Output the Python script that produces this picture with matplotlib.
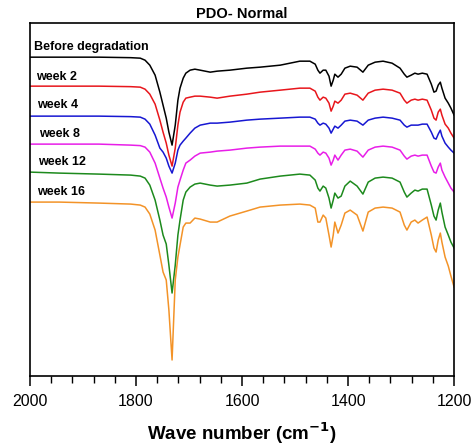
import matplotlib.pyplot as plt
from matplotlib.ticker import MultipleLocator

plt.rcParams["font.family"] = ["Liberation Sans", "DejaVu Sans"]

# wave numbers (cm-1) shared by all spectra
wavenumber = [2000, 1945, 1870, 1810, 1792, 1783, 1774, 1764, 1755, 1749,
              1743, 1738, 1732, 1726, 1721, 1717, 1711, 1706, 1698, 1689,
              1679, 1660, 1647, 1623, 1591, 1566, 1528, 1491, 1472, 1462,
              1457, 1453, 1447, 1442, 1436, 1432, 1428, 1425, 1419, 1413,
              1406, 1396, 1383, 1372, 1362, 1349, 1334, 1317, 1302, 1294,
              1289, 1281, 1274, 1268, 1260, 1251, 1243, 1238, 1234, 1230,
              1226, 1223, 1217, 1211, 1206, 1200]

# transmittance (a.u., stacked)
before = [323, 323, 323, 322.5, 322, 320, 315, 305, 288, 275,
          262, 248, 235, 255, 280, 292, 302, 307, 310, 311,
          310, 308, 309, 310, 312, 313, 315, 319, 319, 316,
          310, 307, 310, 310, 304, 294, 300, 306, 303, 306,
          312, 314, 313, 308, 315, 318, 319, 317, 312, 306,
          303, 305, 307, 306, 307, 306, 296, 288, 289, 295,
          298, 292, 282, 277, 272, 265]
week2 = [294, 294, 294, 293.5, 293, 291, 286, 276, 260, 248,
         237, 225, 214, 232, 255, 268, 278, 282, 283, 284,
         284, 283, 282, 284, 286, 288, 290, 292, 292, 289,
         283, 280, 283, 282, 277, 269, 274, 279, 277, 280,
         286, 287, 285, 280, 287, 290, 291, 290, 287, 280,
         277, 280, 281, 280, 281, 280, 270, 262, 260, 268,
         271, 265, 256, 252, 247, 242]
week4 = [264, 264, 264, 263.5, 263, 261, 256, 245, 232, 228,
         222, 214, 207, 217, 230, 235, 239, 242, 247, 252,
         255, 257, 257, 258, 260, 261, 262, 263, 263, 261,
         257, 255, 257, 256, 252, 247, 251, 254, 252, 255,
         259, 260, 259, 255, 260, 262, 263, 262, 260, 255,
         253, 255, 255, 255, 256, 256, 248, 242, 241, 246,
         250, 244, 237, 233, 230, 227]
week8 = [236, 236, 236, 235, 234.5, 233, 228, 217, 202, 192,
         183, 173, 162, 177, 193, 200, 210, 217, 220, 224,
         227, 228, 229, 230, 232, 233, 234, 234, 234, 231,
         227, 225, 228, 227, 222, 215, 220, 225, 220, 225,
         230, 231, 229, 223, 230, 233, 234, 233, 230, 224,
         221, 224, 225, 224, 225, 225, 214, 208, 207, 213,
         217, 210, 203, 197, 192, 188]
week12 = [208, 207, 206, 205, 204, 202, 195, 180, 160, 145,
          136, 115, 87, 115, 145, 160, 180, 188, 193, 196,
          197, 195, 194, 195, 197, 201, 204, 206, 205, 200,
          192, 189, 194, 192, 182, 172, 180, 187, 182, 184,
          194, 199, 194, 186, 198, 202, 203, 202, 198, 188,
          183, 187, 190, 189, 191, 191, 175, 164, 160, 170,
          177, 168, 153, 145, 138, 132]
week16 = [178, 178, 177, 176, 175, 173, 166, 150, 125, 108,
          100, 70, 20, 100, 123, 135, 153, 157, 157, 162,
          161, 158, 158, 164, 169, 173, 175, 176, 175, 172,
          158, 158, 165, 162, 145, 133, 145, 158, 147, 155,
          167, 170, 165, 149, 168, 172, 173, 172, 168, 155,
          150, 158, 160, 157, 160, 163, 145, 132, 128, 140,
          147, 138, 123, 114, 104, 93]

spectra = [before, week2, week4, week8, week12, week16]
labels = ["Before degradation", "week 2", "week 4", "week 8", "week 12", "week 16"]
colors = ["black", "#e8161c", "#1717d2", "#e81ee8", "#1d8a1d", "#f39328"]
label_pos = [(1992, 330), (1989, 300), (1987, 272), (1983, 243), (1985, 215), (1987, 185)]

fig = plt.figure(figsize=(4.76, 4.46), dpi=100)
ax = fig.add_axes([0.063, 0.157, 0.891, 0.791])

for values, label, color, pos in zip(spectra, labels, colors, label_pos):
    ax.plot(wavenumber, values, color=color, lw=1.1)
    ax.text(pos[0], pos[1], label, fontsize=9, fontweight="bold", va="baseline")

ax.set_xlim(2000, 1200)
ax.set_ylim(4, 357)
ax.set_yticks([])
ax.xaxis.set_major_locator(MultipleLocator(200))
ax.xaxis.set_minor_locator(MultipleLocator(40))
ax.tick_params(axis="x", which="major", direction="out", length=7, width=1.1,
               labelsize=11.5, pad=6)
ax.tick_params(axis="x", which="minor", direction="out", length=5, width=1.0)
for spine in ax.spines.values():
    spine.set_linewidth(1.2)

ax.set_title("PDO- Normal", fontsize=10.5, fontweight="bold", pad=4)
ax.set_xlabel("Wave number (cm$^{\\mathbf{-1}}$)", fontsize=13.5, fontweight="bold", labelpad=8)

plt.savefig("out.png", dpi=100)
